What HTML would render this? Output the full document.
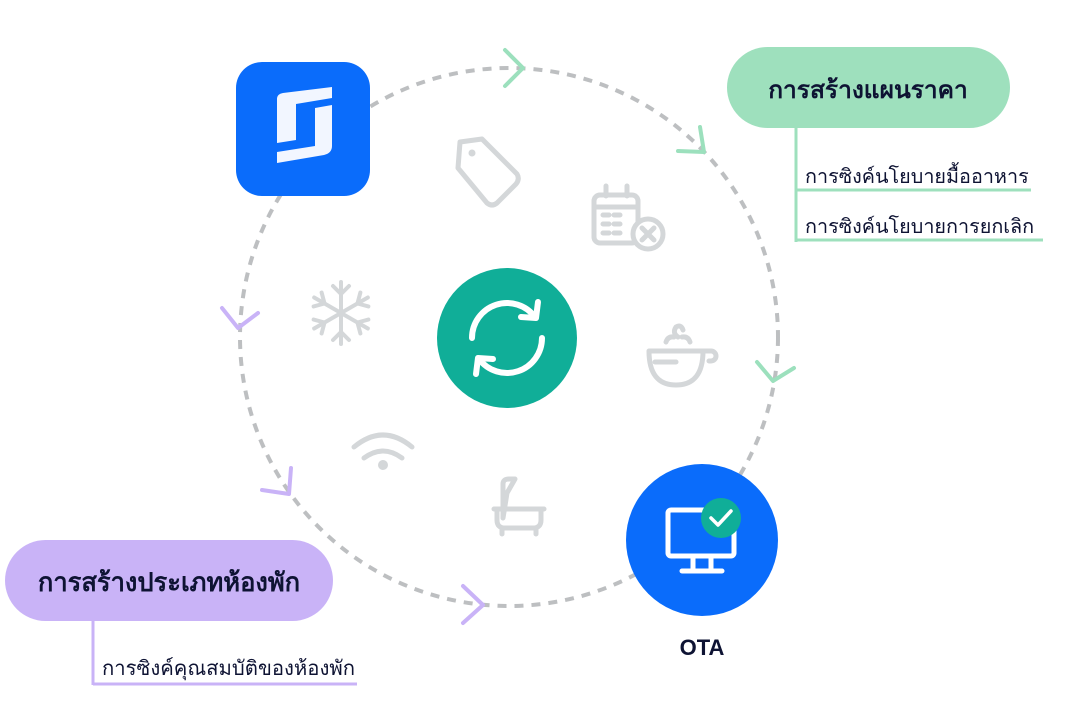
<!DOCTYPE html>
<html><head><meta charset="utf-8"><style>
html,body{margin:0;padding:0;background:#fff;}
svg{display:block;}
text{font-family:"Liberation Sans","Noto Sans CJK SC",sans-serif;}
</style></head><body>
<svg width="1092" height="726" viewBox="0 0 1092 726" xmlns="http://www.w3.org/2000/svg">
<defs>
<g id="arm"><line x1="0" y1="0" x2="0" y2="-31"/><polyline points="-8,-27 0,-19 8,-27"/></g>
</defs>
<circle cx="509" cy="337" r="269" fill="none" stroke="#bdbfc1" stroke-width="4" stroke-dasharray="9 8"/>
<g fill="none" stroke-width="4" stroke-linecap="round" stroke-linejoin="round">
<polyline points="505,50 523,68 505,86" stroke="#9ce0bd"/>
<polyline points="700,127 704,152 678,151" stroke="#9ce0bd"/>
<polyline points="757,362 773,381 794,368" stroke="#9ce0bd"/>
<polyline points="222,308 238,328 258,313" stroke="#c9b3f7"/>
<polyline points="291,468 289,494 262,490" stroke="#c9b3f7"/>
<polyline points="463,586 483,605 463,623" stroke="#c9b3f7"/>
</g>
<rect x="236" y="62" width="134" height="134" rx="26" fill="#0a6cfb"/>
<path d="M277,99 Q277,94 283,93 L332,87 L332,98 L296,104 L296,140 L277,143 Z" fill="#f2f6ff"/>
<path d="M315,108 L332,105 L332,146 Q332,153 324,155 L277,163 L277,152 L315,146 Z" fill="#f2f6ff"/>
<circle cx="507" cy="338" r="70" fill="#10ae98"/>
<g fill="none" stroke="#fff" stroke-width="6" stroke-linecap="round" stroke-linejoin="round">
<path d="M472,338 A35,35 0 0 1 535,317"/>
<polyline points="538,302 536,318 521,317"/>
<path d="M542,338 A35,35 0 0 1 479,359"/>
<polyline points="476,374 478,358 493,359"/>
</g>
<g fill="none" stroke="#d4d7d9" stroke-width="5" stroke-linecap="round" stroke-linejoin="round">
<path d="M460,142 L482,139 L517,174 Q520,179 516,184 L497,203 Q492,207 487,203 L458,168 Z"/>
<rect x="594" y="195" width="44" height="48" rx="6"/>
<line x1="594" y1="207" x2="638" y2="207"/>
<line x1="606" y1="186" x2="606" y2="196"/><line x1="627" y1="186" x2="627" y2="196"/>
<circle cx="648" cy="234" r="15" fill="#fff"/>
<path d="M642,228 L654,240 M654,228 L642,240"/>
<path d="M603,215 h6 M614,215 h6 M603,224 h6 M614,224 h6 M603,233 h6 M614,233 h6"/>
<path d="M649,351 h62 a5,5 0 0 1 0,10 h-2 M649,351 q0,34 27,34 q27,0 27,-34"/>
<line x1="655" y1="362" x2="676" y2="362"/>
<path d="M666,342 q2,-6 8,-5 M690,342 q-2,-6 -8,-5 M678,337 q-6,-4 -2,-10 q5,-3 7,3"/>
<g transform="translate(341,313)" stroke-width="4">
<use href="#arm"/><use href="#arm" transform="rotate(60)"/><use href="#arm" transform="rotate(120)"/>
<use href="#arm" transform="rotate(180)"/><use href="#arm" transform="rotate(240)"/><use href="#arm" transform="rotate(300)"/>
</g>
<path d="M354,447 q29,-24 58,0 M364,458 q19,-14 38,0"/>
<path d="M503,518 v-34 q0,-5 6,-5 h6 l-8,14 z M494,509 h50 M497,509 v11 q0,8 8,8 h28 q8,0 8,-8 v-11 M502,528 v6 M536,528 v6"/>
</g>
<circle cx="383" cy="465" r="5" fill="#d4d7d9"/>
<circle cx="472" cy="153" r="3.5" fill="#d4d7d9"/>
<circle cx="702" cy="540" r="76" fill="#0a6cfb"/>
<g fill="none" stroke="#fff" stroke-width="5" stroke-linecap="round" stroke-linejoin="round">
<rect x="668" y="510" width="66" height="46" rx="3"/>
<line x1="693" y1="557" x2="693" y2="570"/><line x1="711" y1="557" x2="711" y2="570"/>
<line x1="682" y1="571" x2="722" y2="571"/>
</g>
<circle cx="721" cy="518" r="20" fill="#10ae98"/>
<polyline points="711,518 718,525 731,511" fill="none" stroke="#fff" stroke-width="3.5" stroke-linecap="round" stroke-linejoin="round"/>
<text x="702" y="655" text-anchor="middle" font-size="22" font-weight="bold" fill="#0e1333">OTA</text>
<rect x="727" y="47" width="283" height="81" rx="40.5" fill="#9ee0bd"/>
<text x="868" y="98" text-anchor="middle" font-size="24.5" font-weight="bold" fill="#0e1333">การสร้างแผนราคา</text>
<g stroke="#9ee0bd" stroke-width="3" fill="none">
<line x1="796" y1="128" x2="796" y2="242"/>
<line x1="796" y1="190" x2="1031" y2="190"/>
<line x1="796" y1="240" x2="1043" y2="240"/>
</g>
<text x="805" y="183" font-size="19.8" fill="#0e1333">การซิงค์นโยบายมื้ออาหาร</text>
<text x="805" y="233" font-size="19.8" fill="#0e1333">การซิงค์นโยบายการยกเลิก</text>
<rect x="5" y="540" width="328" height="81" rx="40.5" fill="#c9b3f7"/>
<text x="169" y="591" text-anchor="middle" font-size="25.5" font-weight="bold" fill="#0e1333">การสร้างประเภทห้องพัก</text>
<g stroke="#c9b3f7" stroke-width="3" fill="none">
<line x1="93" y1="621" x2="93" y2="685"/>
<line x1="93" y1="684" x2="357" y2="684"/>
</g>
<text x="102" y="675" font-size="20.3" fill="#0e1333">การซิงค์คุณสมบัติของห้องพัก</text>
</svg>
</body></html>
